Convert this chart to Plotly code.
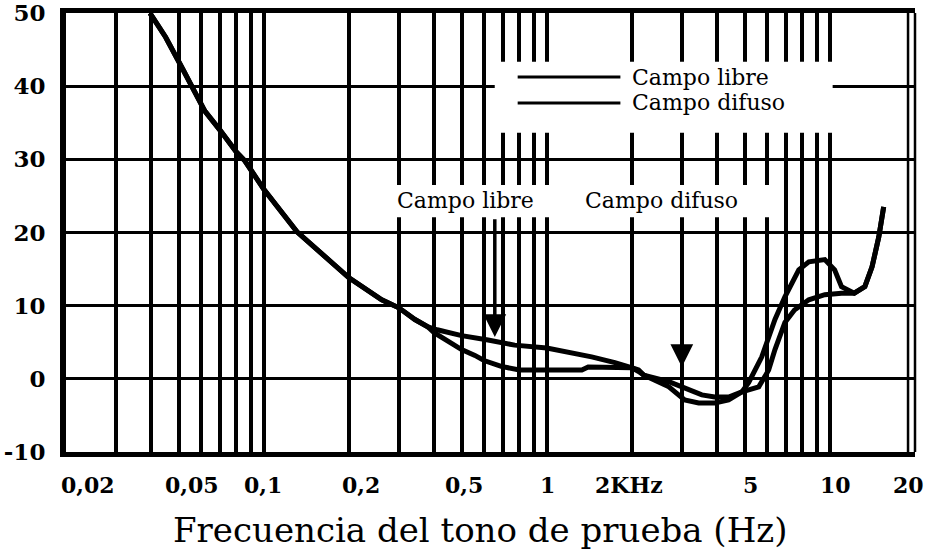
import numpy as np
import plotly.graph_objects as go

# Hearing threshold curves (frequency in kHz, level in dB)
freq_libre = [0.0396, 0.045, 0.0513, 0.0619, 0.07, 0.08, 0.0857, 0.1, 0.131, 0.164, 0.2, 0.261, 0.3, 0.342, 0.38,
              0.41, 0.5, 0.62, 0.77, 1.0, 1.18, 1.44, 1.74, 2.0, 2.11, 2.2, 2.7, 3.07, 3.44, 3.92, 4.39, 4.89,
              5.17, 5.75, 6.4, 6.94, 7.77, 8.43, 9.6, 10.4, 11.0, 12.2, 13.3, 14.1, 14.9, 15.5]
db_libre = [50, 46.7, 42.6, 36.6, 34.0, 31.0, 29.8, 25.9, 20.1, 16.7, 13.8, 10.8, 9.7, 8.1, 7.1,
            6.7, 5.9, 5.3, 4.6, 4.2, 3.7, 3.0, 2.2, 1.5, 1.0, 0.5, -1.1, -2.9, -3.3, -3.3, -2.9, -1.8,
            -0.5, 3.0, 8.1, 11.2, 14.9, 16.0, 16.3, 14.9, 12.6, 11.7, 12.6, 15.3, 19.4, 23.5]

freq_difuso = [0.0396, 0.045, 0.0513, 0.0619, 0.07, 0.08, 0.0857, 0.1, 0.131, 0.164, 0.2, 0.261, 0.3, 0.342, 0.38,
               0.40, 0.45, 0.5, 0.557, 0.6, 0.69, 0.8, 0.96, 1.33, 1.4, 1.65, 2.0, 2.11, 2.2, 2.7, 3.07, 3.53,
               3.92, 4.39, 4.89, 5.61, 6.08, 6.4, 6.94, 7.5, 8.43, 9.6, 11.0, 12.2, 13.3, 14.1, 14.9, 15.5]
db_difuso = [50, 46.7, 42.6, 36.6, 34.0, 31.0, 29.8, 25.9, 20.1, 16.7, 13.8, 10.8, 9.7, 8.1, 7.1,
             6.3, 5.0, 4.0, 3.2, 2.5, 1.7, 1.2, 1.2, 1.2, 1.6, 1.6, 1.5, 1.2, 0.5, -0.4, -1.2, -2.2,
             -2.5, -2.5, -1.8, -1.1, 1.2, 4.0, 7.7, 9.4, 10.8, 11.5, 11.7, 11.7, 12.6, 15.3, 19.4, 23.5]

# Axis labelling
x_label_vals = [0.02, 0.05, 0.1, 0.2, 0.5, 1, 2, 5, 10, 20]
x_label_text = ["0,02", "0,05", "0,1", "0,2", "0,5", "1", "2KHz", "5", "10", "20"]
x_label_shift = [22, 13, -1, 12, 2, 1, -3, 6, 6, -7]
grid_freqs = [m * 10.0 ** e for e in (-2, -1, 0) for m in range(2, 10)] + [0.1, 1, 10]
y_ticks = [-10, 0, 10, 20, 30, 40, 50]
y_tick_text = ["-10", "0", "10", "20", "30", "40", "50"]

# Arrow markers (frequency kHz, tip level dB)
arrow_freqs = [0.655, 3.0]
arrow_tips = [5.7, 1.6]
arrow_tail = 22.0

SERIF = "DejaVu Serif"
fig = go.Figure()
for f, d, name in [(freq_libre, db_libre, "Campo libre"), (freq_difuso, db_difuso, "Campo difuso")]:
    fig.add_trace(go.Scatter(x=f, y=d, mode="lines", name=name,
                             line=dict(color="black", width=5), showlegend=False))

fig.update_xaxes(type="log", range=[np.log10(0.02), np.log10(20)], automargin=False,
                 tickvals=sorted(grid_freqs), showticklabels=False, ticks="",
                 showgrid=True, gridcolor="black", gridwidth=3.5,
                 showline=True, linecolor="black", linewidth=5, mirror=True, zeroline=False)
fig.update_yaxes(range=[-10.01, 50.01], tickvals=y_ticks, ticktext=y_tick_text, ticks="", automargin=False,
                 showgrid=True, gridcolor="black", gridwidth=2.5, ticklabeloverflow="allow",
                 showline=True, linecolor="black", linewidth=6, mirror=False, zeroline=False,
                 tickfont=dict(family=SERIF, size=23, color="black", weight="bold"),
                 ticklabelstandoff=10)

shapes = []
# right double border
for xp in (0.9918, 1.0):
    shapes.append(dict(type="line", xref="paper", yref="paper", x0=xp, x1=xp, y0=0, y1=1,
                       line=dict(color="black", width=2.5), layer="above"))
# legend box and keys
shapes.append(dict(type="rect", xref="paper", yref="paper", x0=0.505, x1=0.903, y0=0.727, y1=0.889,
                   fillcolor="white", line=dict(width=0), layer="above"))
for yp in (0.854, 0.795):
    shapes.append(dict(type="line", xref="paper", yref="paper", x0=0.532, x1=0.653, y0=yp, y1=yp,
                       line=dict(color="black", width=3), layer="above"))
# label band above the arrows
shapes.append(dict(type="rect", xref="paper", yref="paper", x0=0.372, x1=0.832, y0=0.535, y1=0.608,
                   fillcolor="white", line=dict(width=0), layer="above"))

annotations = []
for txt, yp in (("Campo libre", 0.852), ("Campo difuso", 0.797)):
    annotations.append(dict(xref="paper", yref="paper", x=0.664, y=yp, text=txt, showarrow=False,
                            xanchor="left", yanchor="middle",
                            font=dict(family=SERIF, size=22, color="black")))
for txt, xp in (("Campo libre", 0.471), ("Campo difuso", 0.702)):
    annotations.append(dict(xref="paper", yref="paper", x=xp, y=0.572, text=txt, showarrow=False,
                            xanchor="center", yanchor="middle",
                            font=dict(family=SERIF, size=22, color="black")))
for f, tip in zip(arrow_freqs, arrow_tips):
    annotations.append(dict(x=np.log10(f), y=tip, ax=np.log10(f), ay=arrow_tail, axref="x", ayref="y",
                            text="", showarrow=True, arrowhead=2, arrowsize=1.3, arrowwidth=3.5,
                            arrowcolor="black"))
for v, t, s in zip(x_label_vals, x_label_text, x_label_shift):
    annotations.append(dict(x=np.log10(v), xref="x", y=0, yref="paper", text=t, showarrow=False,
                            xanchor="center", yanchor="middle", xshift=s, yshift=-33,
                            font=dict(family=SERIF, size=22, color="black", weight="bold")))
annotations.append(dict(xref="paper", yref="paper", x=0.488, y=0, yshift=-78,
                        text="Frecuencia del tono de prueba (Hz)",
                        showarrow=False, xanchor="center", yanchor="middle",
                        font=dict(family=SERIF, size=34, color="black")))

fig.update_layout(width=930, height=549, margin=dict(l=66, r=15, t=13, b=97),
                  paper_bgcolor="white", plot_bgcolor="white",
                  shapes=shapes, annotations=annotations, showlegend=False)
fig.write_html("out.html")
